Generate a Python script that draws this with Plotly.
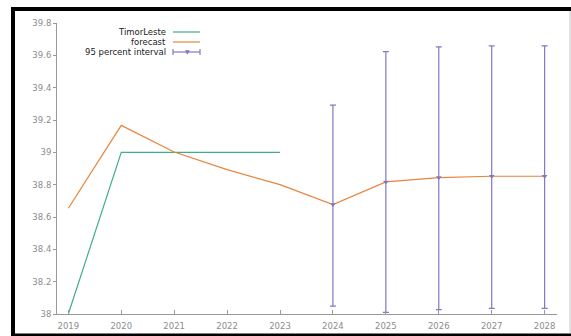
import plotly.graph_objects as go

# ---- data ----
years = [2019, 2020, 2021, 2022, 2023, 2024, 2025, 2026, 2027, 2028]
actual_years = [2019, 2020, 2021, 2022, 2023]
actual_values = [38.0, 39.0, 39.0, 39.0, 39.0]
forecast_values = [38.654, 39.167, 39.002, 38.893, 38.80, 38.677, 38.817, 38.844, 38.852, 38.852]
interval_years = [2024, 2025, 2026, 2027, 2028]
interval_mid = [38.677, 38.817, 38.844, 38.852, 38.852]
interval_upper = [39.292, 39.623, 39.652, 39.658, 39.658]
interval_lower = [38.049, 38.010, 38.027, 38.035, 38.035]
y_ticks = [38, 38.2, 38.4, 38.6, 38.8, 39, 39.2, 39.4, 39.6, 39.8]
y_tick_labels = ["38", "38.2", "38.4", "38.6", "38.8", "39", "39.2", "39.4", "39.6", "39.8"]
legend_labels = ["TimorLeste", "forecast", "95 percent interval"]

GREEN = "#3fae8a"
ORANGE = "#e8843e"
PURPLE = "#8079c2"
FONT = "DejaVu Sans"

W, H = 571, 336
L, R, T, B = 57, 14, 23, 22
PW, PH = W - L - R, H - T - B


def px(x):
    return (x - L) / PW


def py(y):
    return (H - B - y) / PH


fig = go.Figure()
fig.add_trace(go.Scatter(x=actual_years, y=actual_values, mode="lines",
                         line=dict(color=GREEN, width=1.2), name=legend_labels[0],
                         showlegend=False, cliponaxis=False))
fig.add_trace(go.Scatter(x=years, y=forecast_values, mode="lines",
                         line=dict(color=ORANGE, width=1.2), name=legend_labels[1],
                         showlegend=False, cliponaxis=False))
fig.add_trace(go.Scatter(
    x=interval_years, y=interval_mid, mode="markers",
    marker=dict(symbol="triangle-down", size=5, color=PURPLE),
    error_y=dict(type="data", symmetric=False,
                 array=[u - m for u, m in zip(interval_upper, interval_mid)],
                 arrayminus=[m - l for m, l in zip(interval_mid, interval_lower)],
                 color=PURPLE, thickness=1.2, width=3),
    name=legend_labels[2], showlegend=False, cliponaxis=False))

shapes = []
# black frame (top, left, bottom) and grey right edge
shapes.append(dict(type="rect", xref="paper", yref="paper", x0=px(11), x1=px(571), y0=py(11), y1=py(7),
                   fillcolor="black", line=dict(width=0), layer="above"))
shapes.append(dict(type="rect", xref="paper", yref="paper", x0=px(11), x1=px(15), y0=py(336), y1=py(7),
                   fillcolor="black", line=dict(width=0), layer="above"))
shapes.append(dict(type="rect", xref="paper", yref="paper", x0=px(11), x1=px(571), y0=py(336), y1=py(333.5),
                   fillcolor="black", line=dict(width=0), layer="above"))
shapes.append(dict(type="line", xref="paper", yref="paper", x0=px(570), x1=px(570), y0=py(333), y1=py(11),
                   line=dict(color="#c8c8c8", width=1)))

# legend samples
leg_y = [32, 42, 52]
colors = [GREEN, ORANGE, PURPLE]
for i in range(3):
    shapes.append(dict(type="line", xref="paper", yref="paper", x0=px(173), x1=px(200),
                       y0=py(leg_y[i]), y1=py(leg_y[i]), line=dict(color=colors[i], width=1.2)))
for xx in (173, 200):
    shapes.append(dict(type="line", xref="paper", yref="paper", x0=px(xx), x1=px(xx),
                       y0=py(leg_y[2] - 3), y1=py(leg_y[2] + 3), line=dict(color=PURPLE, width=1.2)))

annotations = []
for i in range(3):
    annotations.append(dict(xref="paper", yref="paper", x=px(168), y=py(leg_y[i]),
                            text=legend_labels[i], showarrow=False, xanchor="right", yanchor="middle",
                            font=dict(family=FONT, size=8.5, color="#222222")))
annotations.append(dict(xref="paper", yref="paper", x=px(187), y=py(52), text="▼", showarrow=False,
                        xanchor="center", yanchor="middle", font=dict(family=FONT, size=6, color=PURPLE)))

fig.update_layout(
    width=W, height=H,
    margin=dict(l=L, r=R, t=T, b=B, pad=0, autoexpand=False),
    paper_bgcolor="white", plot_bgcolor="white",
    showlegend=False,
    shapes=shapes, annotations=annotations,
    xaxis=dict(range=[2018.786, 2028.234], tickmode="array", tickvals=years,
               ticktext=[str(y) for y in years], showgrid=False, zeroline=False,
               showline=True, linecolor="#999999", linewidth=1, automargin=False,
               ticks="inside", ticklen=4, tickcolor="#999999", ticklabelstandoff=4,
               tickfont=dict(family=FONT, size=8.5, color="#8c8c8c")),
    yaxis=dict(range=[38, 39.8], tickmode="array", tickvals=y_ticks, ticktext=y_tick_labels,
               showgrid=False, zeroline=False, automargin=False,
               showline=True, linecolor="#999999", linewidth=1,
               ticks="outside", ticklen=3, tickcolor="#999999",
               tickfont=dict(family=FONT, size=8.5, color="#8c8c8c")),
)

fig.write_html("out.html")
